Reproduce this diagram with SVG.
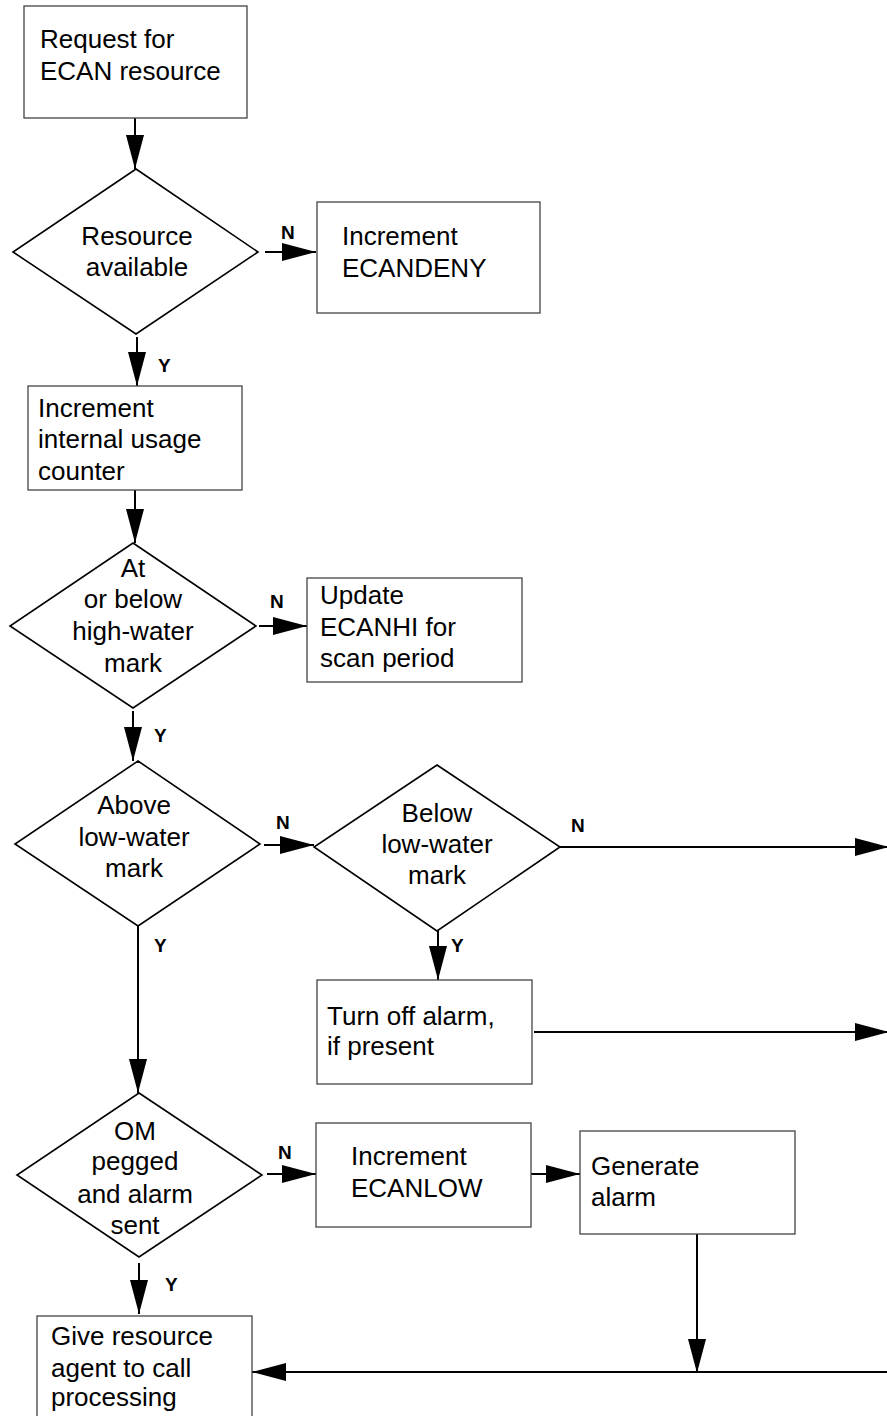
<svg xmlns="http://www.w3.org/2000/svg" width="887" height="1416" viewBox="0 0 887 1416">
<style>
.box{fill:#fff;stroke:#444;stroke-width:1.3}
.dia{fill:#fff;stroke:#000;stroke-width:1.6}
.t{font-family:"Liberation Sans",Arial,sans-serif;font-size:26px;fill:#000}
.c{text-anchor:middle}
.lbl{font-family:"Liberation Sans",Arial,sans-serif;font-size:19px;font-weight:bold;fill:#000}
.ln{fill:none;stroke:#000;stroke-width:2;marker-end:url(#ah)}
</style>
<defs>
<marker id="ah" markerUnits="userSpaceOnUse" markerWidth="36" markerHeight="20" refX="34" refY="9" orient="auto">
<path d="M0,0 L34,9 L0,18 z" fill="#000"/>
</marker>
</defs>
<rect width="887" height="1416" fill="#fff"/>

<g id="connectors">
<path class="ln" d="M135,118 V169"/>
<path class="ln" d="M265,252 H316"/>
<path class="ln" d="M137,337 V386"/>
<path class="ln" d="M135,490 V543"/>
<path class="ln" d="M259,626 H307"/>
<path class="ln" d="M133,711 V761"/>
<path class="ln" d="M264,845 H314"/>
<path class="ln" d="M138,926 V1093"/>
<path class="ln" d="M560,847 H889"/>
<path class="ln" d="M438,931 V980"/>
<path class="ln" d="M534,1032 H889"/>
<path class="ln" d="M267,1174 H316"/>
<path class="ln" d="M531,1174 H580"/>
<path class="ln" d="M139,1263 V1314"/>
<path class="ln" d="M697,1234 V1373"/>
<path class="ln" d="M890,1372 H252"/>
<text class="lbl" x="281" y="239">N</text>
<text class="lbl" x="158" y="372">Y</text>
<text class="lbl" x="270" y="608">N</text>
<text class="lbl" x="154" y="742">Y</text>
<text class="lbl" x="276" y="829">N</text>
<text class="lbl" x="154" y="952">Y</text>
<text class="lbl" x="571" y="832">N</text>
<text class="lbl" x="451" y="952">Y</text>
<text class="lbl" x="278" y="1159">N</text>
<text class="lbl" x="165" y="1291">Y</text>
</g>

<g id="request">
<rect class="box" x="24" y="6" width="223" height="112"/>
<text class="t" x="40" y="48">Request for</text>
<text class="t" x="40" y="80">ECAN resource</text>
</g>

<g id="resource-available">
<polygon class="dia" points="136,169 258,252 136,334 13,252"/>
<text class="t c" x="137" y="245">Resource</text>
<text class="t c" x="137" y="276">available</text>
</g>

<g id="ecandeny">
<rect class="box" x="317" y="202" width="223" height="111"/>
<text class="t" x="342" y="245">Increment</text>
<text class="t" x="342" y="277">ECANDENY</text>
</g>

<g id="increment-usage">
<rect class="box" x="28" y="386" width="214" height="104"/>
<text class="t" x="38" y="417">Increment</text>
<text class="t" x="38" y="448">internal usage</text>
<text class="t" x="38" y="480">counter</text>
</g>

<g id="high-water">
<polygon class="dia" points="133,543 256,626 133,708 10,626"/>
<text class="t c" x="133" y="577">At</text>
<text class="t c" x="133" y="608">or below</text>
<text class="t c" x="133" y="640">high-water</text>
<text class="t c" x="133" y="672">mark</text>
</g>

<g id="ecanhi">
<rect class="box" x="307" y="578" width="215" height="104"/>
<text class="t" x="320" y="604">Update</text>
<text class="t" x="320" y="636">ECANHI for</text>
<text class="t" x="320" y="667">scan period</text>
</g>

<g id="above-low">
<polygon class="dia" points="138,761 260,844 138,926 15,844"/>
<text class="t c" x="134" y="814">Above</text>
<text class="t c" x="134" y="846">low-water</text>
<text class="t c" x="134" y="877">mark</text>
</g>

<g id="below-low">
<polygon class="dia" points="437,765 560,847 437,931 314,847"/>
<text class="t c" x="437" y="822">Below</text>
<text class="t c" x="437" y="853">low-water</text>
<text class="t c" x="437" y="884">mark</text>
</g>

<g id="turn-off">
<rect class="box" x="317" y="980" width="215" height="104"/>
<text class="t" x="327" y="1025">Turn off alarm,</text>
<text class="t" x="327" y="1055">if present</text>
</g>

<g id="om-pegged">
<polygon class="dia" points="139,1093 262,1175 139,1257 17,1175"/>
<text class="t c" x="135" y="1140">OM</text>
<text class="t c" x="135" y="1170">pegged</text>
<text class="t c" x="135" y="1203">and alarm</text>
<text class="t c" x="135" y="1234">sent</text>
</g>

<g id="ecanlow">
<rect class="box" x="316" y="1123" width="215" height="104"/>
<text class="t" x="351" y="1165">Increment</text>
<text class="t" x="351" y="1197">ECANLOW</text>
</g>

<g id="generate-alarm">
<rect class="box" x="580" y="1131" width="215" height="103"/>
<text class="t" x="591" y="1175">Generate</text>
<text class="t" x="591" y="1206">alarm</text>
</g>

<g id="give-resource">
<rect class="box" x="37" y="1316" width="215" height="110"/>
<text class="t" x="51" y="1345">Give resource</text>
<text class="t" x="51" y="1377">agent to call</text>
<text class="t" x="51" y="1406">processing</text>
</g>
</svg>
